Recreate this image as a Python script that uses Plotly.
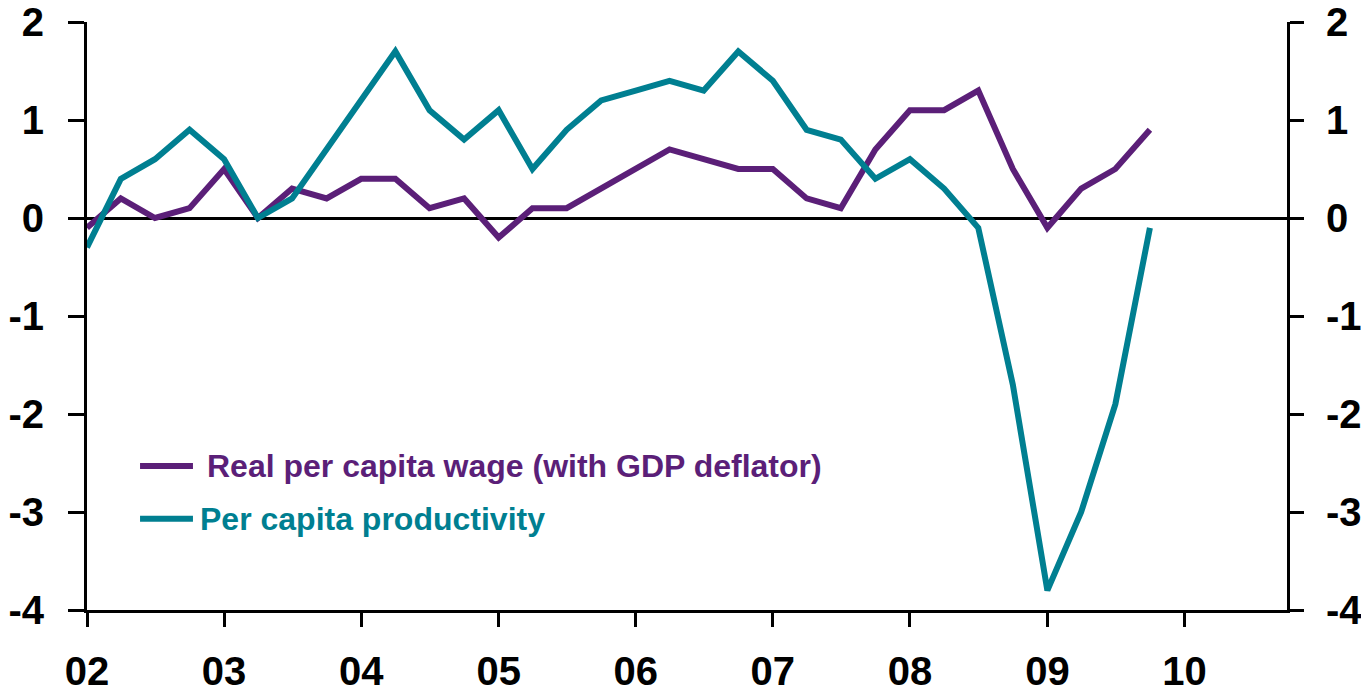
import pandas as pd
import plotly.graph_objects as go

# Quarterly observations, 2002 Q1 - 2009 Q4 (% change)
quarters = pd.period_range("2002Q1", "2009Q4", freq="Q").to_timestamp()

real_wage = [-0.1, 0.2, 0.0, 0.1, 0.5, 0.0, 0.3, 0.2,
             0.4, 0.4, 0.1, 0.2, -0.2, 0.1, 0.1, 0.3,
             0.5, 0.7, 0.6, 0.5, 0.5, 0.2, 0.1, 0.7,
             1.1, 1.1, 1.3, 0.5, -0.1, 0.3, 0.5, 0.9]

productivity = [-0.3, 0.4, 0.6, 0.9, 0.6, 0.0, 0.2, 0.7,
                1.2, 1.7, 1.1, 0.8, 1.1, 0.5, 0.9, 1.2,
                1.3, 1.4, 1.3, 1.7, 1.4, 0.9, 0.8, 0.4,
                0.6, 0.3, -0.1, -1.7, -3.8, -3.0, -1.9, -0.1]

series_names = ["Real per capita wage (with GDP deflator)", "Per capita productivity"]
series_colors = ["#5b1f78", "#007f91"]

year_ticks = pd.date_range("2002-01-01", "2010-01-01", freq="YS")
year_labels = ["02", "03", "04", "05", "06", "07", "08", "09", "10"]
y_ticks = [-4, -3, -2, -1, 0, 1, 2]
y_labels = ["-4", "-3", "-2", "-1", "0", "1", "2"]

FONT = "Liberation Sans, Arial, sans-serif"

fig = go.Figure()
for name, values, color in zip(series_names, [real_wage, productivity], series_colors):
    fig.add_trace(go.Scatter(
        x=quarters, y=values, name=name, mode="lines",
        line=dict(color=color, width=6), showlegend=False,
    ))

# invisible trace to carry the right-hand axis
fig.add_trace(go.Scatter(x=[quarters[0]], y=[0], yaxis="y2", mode="lines",
                         line=dict(width=0), showlegend=False, hoverinfo="skip"))

y_font = dict(family=FONT, size=40, color="black", weight="bold")
x_font = dict(family=FONT, size=40, color="black", weight="bold")

fig.update_layout(
    width=1361, height=696,
    margin=dict(l=87, r=74, t=22, b=86, autoexpand=False),
    paper_bgcolor="white", plot_bgcolor="white",
    xaxis=dict(
        type="date", range=["2002-01-01", "2010-10-01"],
        tickvals=year_ticks, ticktext=year_labels,
        showline=True, linecolor="black", linewidth=3,
        ticks="outside", ticklen=14, tickwidth=3, tickcolor="black",
        tickfont=x_font, showgrid=False, zeroline=False,
        ticklabelstandoff=10, automargin=False,
    ),
    yaxis=dict(
        range=[-4, 2], tickvals=y_ticks, ticktext=y_labels,
        showline=True, linecolor="black", linewidth=3,
        ticks="outside", ticklen=16, tickwidth=3, tickcolor="black",
        tickfont=y_font, showgrid=False,
        zeroline=True, zerolinecolor="black", zerolinewidth=3,
        ticklabelstandoff=16, automargin=False,
    ),
    yaxis2=dict(
        range=[-4, 2], tickvals=y_ticks, ticktext=y_labels,
        overlaying="y", side="right",
        showline=True, linecolor="black", linewidth=3,
        ticks="outside", ticklen=14, tickwidth=3, tickcolor="black",
        tickfont=y_font, showgrid=False, zeroline=False,
        ticklabelstandoff=14, automargin=False,
    ),
)

# legend drawn as sample lines with coloured labels
legend_rows = [(0.245, 0.0983), (0.155, 0.0925)]
for (ly, tx), name, color in zip(legend_rows, series_names, series_colors):
    fig.add_shape(type="line", xref="paper", yref="paper",
                  x0=0.0442, x1=0.0883, y0=ly, y1=ly,
                  line=dict(color=color, width=6))
    fig.add_annotation(xref="paper", yref="paper", x=tx, y=ly,
                       xanchor="left", yanchor="middle", showarrow=False,
                       text=name, font=dict(family=FONT, size=32, color=color, weight="bold"))

fig.write_html("out.html")
